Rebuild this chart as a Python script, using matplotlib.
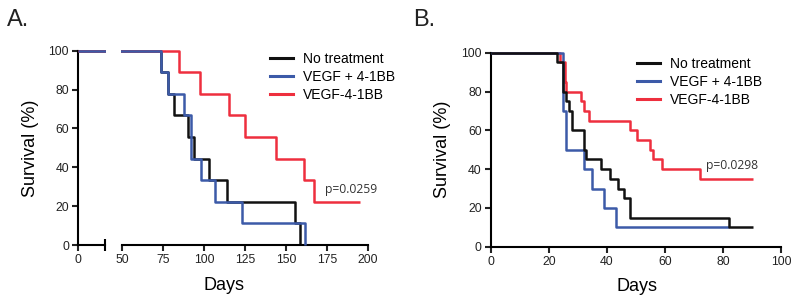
import matplotlib
matplotlib.use("Agg")
import matplotlib.pyplot as plt
from matplotlib.transforms import Bbox, TransformedBbox

plt.rcParams['font.family'] = ['Liberation Sans', 'DejaVu Sans']

# ---------------- data ----------------
series_names = ["No treatment", "VEGF + 4-1BB", "VEGF-4-1BB"]
colors = ["#111111", "#3c5aa8", "#ee2f3e"]

# Panel A (days, survival %)
a_black_t = [0, 74, 78, 82, 90, 94, 103, 114, 155.5, 158.5]
a_black_s = [100, 88.9, 77.8, 66.7, 55.6, 44.4, 33.3, 22.2, 11.1, 0]
a_blue_t = [0, 74, 78, 88, 92, 98, 107, 123, 161.5]
a_blue_s = [100, 88.9, 77.8, 66.7, 44.4, 33.3, 22.2, 11.1, 0]
a_red_t = [0, 85, 97.5, 115.5, 125, 144, 161, 167, 195]
a_red_s = [100, 88.9, 77.8, 66.7, 55.6, 44.4, 33.3, 22.2, 22.2]

# Panel B
b_black_t = [0, 23, 25, 26, 27, 28, 32, 33, 38, 41, 44, 46, 48, 82, 90.5]
b_black_s = [100, 95, 80, 75, 70, 60, 50, 45, 40, 35, 30, 25, 15, 10, 10]
b_blue_t = [0, 25, 26, 32, 35, 39, 43, 82]
b_blue_s = [100, 70, 50, 40, 30, 20, 10, 10]
b_red_t = [0, 24, 25.5, 26, 31, 32, 34, 48, 50.5, 55, 56, 59, 72, 90.5]
b_red_s = [100, 95, 85, 80, 75, 70, 65, 60, 55, 50, 45, 40, 35, 35]

y_ticks = [0, 20, 40, 60, 80, 100]
a_x_ticks = [50, 75, 100, 125, 150, 175, 200]
b_x_ticks = [0, 20, 40, 60, 80, 100]
p_a = "p=0.0259"
p_b = "p=0.0298"

LW = 1.8
SPW = 1.5
TICKFS = 8.8
LABFS = 13
LEGFS = 10

W, H = 800, 306
fig = plt.figure(figsize=(W / 100, H / 100), dpi=100)


def ax_at(l, t, r, b):
    return fig.add_axes([l / W, 1 - b / H, (r - l) / W, (b - t) / H])


def fig_pt(x, y):
    return (x / W, 1 - y / H)


def style(ax):
    for s in ['top', 'right']:
        ax.spines[s].set_visible(False)
    for s in ['left', 'bottom']:
        ax.spines[s].set_linewidth(SPW)
    ax.tick_params(direction='out', length=4.5, width=SPW, labelsize=TICKFS,
                   colors='#222222', pad=2.0)
    ax.set_ylim(0, 100)


A_series = [(a_black_t, a_black_s, 2), (a_red_t, a_red_s, 3), (a_blue_t, a_blue_s, 4)]
B_series = [(b_red_t, b_red_s, 2), (b_blue_t, b_blue_s, 3), (b_black_t, b_black_s, 4)]
A_colors = [colors[0], colors[2], colors[1]]
B_colors = [colors[2], colors[1], colors[0]]

leg_handles = [plt.Line2D([], [], color=c, lw=2.2) for c in colors]
leg_kw = dict(loc='upper left', frameon=False, fontsize=LEGFS, handlelength=1.65,
              handletextpad=0.72, labelspacing=0.3, borderaxespad=0, borderpad=0)

# ---- Panel A, segment 1 (0-40) ----
ax1 = ax_at(78, 50.7, 105, 245)
style(ax1)
ax1.set_xlim(0, 40)
for (t, s, z), c in zip(A_series, A_colors):
    ln, = ax1.step(t, s, where='post', color=c, lw=LW, zorder=z,
                   solid_capstyle='butt')
    ln.set_clip_box(TransformedBbox(Bbox([[-5, -5], [41, 110]]), ax1.transData))
ax1.set_xticks([0])
ax1.set_xticks([40], minor=True)
ax1.tick_params(axis='x', which='minor', direction='inout', length=8, width=SPW)
ax1.set_yticks(y_ticks)
ax1.set_ylabel("Survival (%)", fontsize=LABFS, labelpad=7)

# ---- Panel A, segment 2 (50-200) ----
ax2 = ax_at(122, 50.7, 368, 245)
style(ax2)
ax2.spines['left'].set_visible(False)
ax2.set_xlim(50, 200)
ax2.set_yticks([])
clipbox = TransformedBbox(Bbox([[49.2, -5], [210, 110]]), ax2.transData)
for (t, s, z), c in zip(A_series, A_colors):
    ln, = ax2.step(t, s, where='post', color=c, lw=LW, zorder=z,
                   solid_capstyle='butt')
    ln.set_clip_box(clipbox)
ax2.set_xticks(a_x_ticks)
ax2.set_xticks([50], minor=True)
ax2.tick_params(axis='x', which='minor', direction='inout', length=8, width=SPW)
ax2.set_xlabel("Days", fontsize=LABFS)
ax2.xaxis.set_label_coords((224 - 122) / (368 - 122), -0.165)

ax2.legend(leg_handles, series_names, bbox_to_anchor=fig_pt(270, 52),
           bbox_transform=fig.transFigure, **leg_kw)
fig.text(*fig_pt(325, 189), p_a, fontsize=8.7,
         family=['Open Sans', 'DejaVu Sans'], color='#333333', ha='left', va='center')
fig.text(7 / W, 1 - 25.5 / H, "A.", fontsize=17, color='#222222', va='baseline')

# ---- Panel B ----
axb = ax_at(490.7, 52.7, 781, 246.7)
style(axb)
axb.set_xlim(0, 100)
for (t, s, z), c in zip(B_series, B_colors):
    axb.step(t, s, where='post', color=c, lw=LW, zorder=z, clip_on=False,
             solid_capstyle='butt')
axb.set_xticks(b_x_ticks)
axb.set_yticks(y_ticks)
axb.set_xlabel("Days", fontsize=LABFS)
axb.xaxis.set_label_coords((636.7 - 490.7) / 290.3, -0.16)
axb.set_ylabel("Survival (%)", fontsize=LABFS, labelpad=7)
axb.legend(leg_handles, series_names, bbox_to_anchor=fig_pt(636.7, 57),
           bbox_transform=fig.transFigure, **leg_kw)
fig.text(*fig_pt(706, 165), p_b, fontsize=8.7,
         family=['Open Sans', 'DejaVu Sans'], color='#333333', ha='left', va='center')
fig.text(413 / W, 1 - 25.5 / H, "B.", fontsize=17, color='#222222', va='baseline')

fig.savefig("out.png", dpi=100)
